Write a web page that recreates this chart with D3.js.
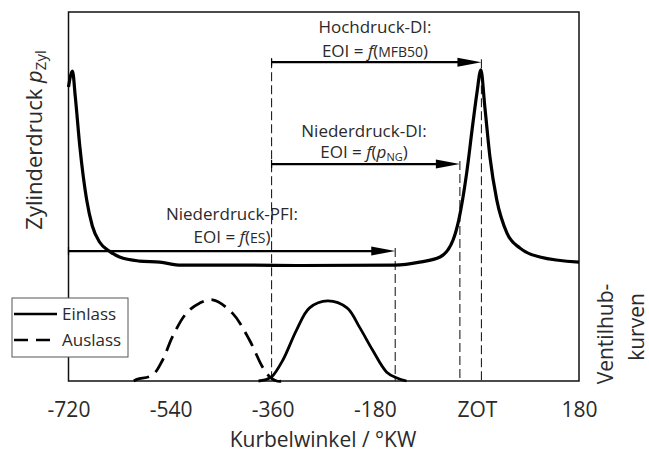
<!DOCTYPE html>
<html>
<head>
<meta charset="utf-8">
<script src="https://cdn.jsdelivr.net/npm/d3@7"></script>
<style>
body { margin: 0; background: #fff; }
text { font-family: "Open Sans", sans-serif; fill: #2a2a2a; }
</style>
</head>
<body>
<svg id="chart" width="649" height="452"></svg>
<script>
// Zylinderdruck (normiert, 0..100) ueber Kurbelwinkel
var pressAngle = [-720, -713, -708, -700, -688, -678, -665, -648, -630, -595, -559, -521, -400, -312, -145, -101, -65, -42, -32, -18, -7, 0, 7, 14, 23, 35, 53, 76, 111, 180];
var pressValue = [79.7, 84.0, 77.0, 63.5, 49.1, 42.0, 37.6, 35.2, 33.6, 32.5, 32.2, 31.4, 31.4, 31.3, 31.4, 32.2, 33.6, 38.2, 43.6, 56.4, 69.9, 78.0, 84.3, 74.3, 60.7, 49.1, 40.1, 36.0, 33.6, 32.2];

// Ventilhubkurven
var inletAngle = [-385, -374, -362, -342, -318, -295, -263, -229, -207, -184, -159, -141, -124];
var inletLift = [0, 0.3, 1.1, 5.7, 13.8, 19.8, 21.7, 19.8, 14.6, 8.4, 2.4, 0.8, 0];
var exhaustAngle = [-605, -598, -572, -554, -537, -512, -489, -466, -431, -401, -378, -365, -353, -340];
var exhaustLift = [0, 0.5, 1.6, 5.7, 11.9, 18.4, 21.1, 22.0, 18.4, 11.1, 3.8, 1.1, 0, 0];

// Einspritzende-Pfeile
var arrowFrom = [-362, -362, -720];
var arrowTo = [8, -30, -144];
var arrowLevel = [86.4, 58.8, 35.2];

var xTicks = [-720, -540, -360, -180, 0, 180];
var xTickLabels = ["-720", "-540", "-360", "-180", "ZOT", "180"];

var svg = d3.select("#chart");

var x = d3.scaleLinear().domain([-720, 180]).range([68.5, 579]);
var y = d3.scaleLinear().domain([0, 100]).range([381, 12]);

//Rahmen
svg.append("rect")
    .attr("x", x(-720)).attr("y", y(100))
    .attr("width", x(180) - x(-720)).attr("height", y(0) - y(100))
    .attr("fill", "none").attr("stroke", "#111").attr("stroke-width", 1.5);

//X Achse
var xAxis = d3.axisBottom(x)
    .tickValues(xTicks)
    .tickSize(0)
    .tickPadding(21)
    .tickFormat(function (d, i) { return xTickLabels[i]; });

var gx = svg.append("g")
    .attr("transform", "translate(0," + y(0) + ")")
    .call(xAxis);
gx.select(".domain").remove();
gx.selectAll("text")
    .attr("font-size", "21px")
    .attr("font-family", "Open Sans, sans-serif")
    .attr("fill", "#2a2a2a");

svg.append("text")
    .attr("x", 323).attr("y", 447)
    .attr("text-anchor", "middle")
    .attr("font-size", "21px")
    .text("Kurbelwinkel / °KW");

//Y Achsentitel
var yl = svg.append("text")
    .attr("transform", "translate(42,140) rotate(-90)")
    .attr("text-anchor", "middle")
    .attr("font-size", "22px");
yl.append("tspan").text("Zylinderdruck ");
yl.append("tspan").attr("font-style", "italic").text("p");
yl.append("tspan").attr("font-size", "15px").attr("dy", 4).text("Zyl");

svg.append("text")
    .attr("transform", "translate(613,334) rotate(-90)")
    .attr("text-anchor", "middle")
    .attr("font-size", "21px")
    .text("Ventilhub-");
svg.append("text")
    .attr("transform", "translate(644,327) rotate(-90)")
    .attr("text-anchor", "middle")
    .attr("font-size", "21px")
    .text("kurven");

//Gestrichelte Hilfslinien
var guides = [
    {a: arrowFrom[0], top: arrowLevel[0]},
    {a: arrowTo[0], top: arrowLevel[0]},
    {a: arrowTo[1], top: arrowLevel[1]},
    {a: arrowTo[2], top: arrowLevel[2]}
];
svg.selectAll(".guide").data(guides).enter().append("line")
    .attr("class", "guide")
    .attr("x1", function (d) { return x(d.a); })
    .attr("x2", function (d) { return x(d.a); })
    .attr("y1", function (d) { return y(d.top) - 3; })
    .attr("y2", y(0))
    .attr("stroke", "#222").attr("stroke-width", 1.1)
    .attr("stroke-dasharray", "9,4");

//Kurven
function curve(angles, values, type) {
    return d3.line()
        .x(function (d, i) { return x(angles[i]); })
        .y(function (d, i) { return y(values[i]); })
        .curve(type)(values);
}

svg.append("path")
    .attr("d", curve(pressAngle, pressValue, d3.curveMonotoneX))
    .attr("fill", "none").attr("stroke", "#000").attr("stroke-width", 3.2)
    .attr("stroke-linejoin", "round");

svg.append("path")
    .attr("d", curve(exhaustAngle, exhaustLift, d3.curveCatmullRom))
    .attr("fill", "none").attr("stroke", "#000").attr("stroke-width", 2.8)
    .attr("stroke-dasharray", "16,8");

svg.append("path")
    .attr("d", curve(inletAngle, inletLift, d3.curveCatmullRom))
    .attr("fill", "none").attr("stroke", "#000").attr("stroke-width", 2.8);

//Pfeile
for (var i = 0; i < arrowFrom.length; i++) {
    var x0 = x(arrowFrom[i]), x1 = x(arrowTo[i]), yy = y(arrowLevel[i]);
    svg.append("line")
        .attr("x1", x0).attr("x2", x1 - 20).attr("y1", yy).attr("y2", yy)
        .attr("stroke", "#000").attr("stroke-width", 2.2);
    svg.append("path")
        .attr("d", "M" + (x1 - 24) + "," + (yy - 4.5) + "L" + x1 + "," + yy + "L" + (x1 - 24) + "," + (yy + 4.5) + "Z")
        .attr("fill", "#000");
    svg.append("line")
        .attr("x1", x0).attr("x2", x0).attr("y1", yy - 4).attr("y2", yy + 4)
        .attr("stroke", "#000").attr("stroke-width", 1.2);
}

//Beschriftungen
function label(cx, by, title) {
    svg.append("text")
        .attr("x", cx).attr("y", by)
        .attr("text-anchor", "middle")
        .attr("font-size", "17px")
        .text(title);
}
label(375, 33, "Hochdruck-DI:");
label(364, 137, "Niederdruck-DI:");
label(232, 220, "Niederdruck-PFI:");

var t1 = svg.append("text").attr("x", 375).attr("y", 57).attr("text-anchor", "middle").attr("font-size", "17px");
t1.append("tspan").text("EOI = ");
t1.append("tspan").attr("font-style", "italic").text("f");
t1.append("tspan").text("(");
t1.append("tspan").attr("font-size", "14px").text("MFB50");
t1.append("tspan").text(")");

var t2 = svg.append("text").attr("x", 364).attr("y", 158).attr("text-anchor", "middle").attr("font-size", "17px");
t2.append("tspan").text("EOI = ");
t2.append("tspan").attr("font-style", "italic").text("f");
t2.append("tspan").text("(");
t2.append("tspan").attr("font-style", "italic").text("p");
t2.append("tspan").attr("font-size", "11px").attr("dy", 3).text("NG");
t2.append("tspan").attr("dy", -3).text(")");

var t3 = svg.append("text").attr("x", 232).attr("y", 243).attr("text-anchor", "middle").attr("font-size", "17px");
t3.append("tspan").text("EOI = ");
t3.append("tspan").attr("font-style", "italic").text("f");
t3.append("tspan").text("(");
t3.append("tspan").attr("font-size", "14px").text("ES");
t3.append("tspan").text(")");

//Legende
var legend = svg.append("g");
legend.append("rect")
    .attr("x", 12).attr("y", 298).attr("width", 116).attr("height", 59)
    .attr("fill", "#fff").attr("stroke", "#555").attr("stroke-width", 1);
legend.append("line")
    .attr("x1", 14).attr("x2", 57).attr("y1", 314).attr("y2", 314)
    .attr("stroke", "#000").attr("stroke-width", 2.4);
legend.append("line")
    .attr("x1", 14).attr("x2", 57).attr("y1", 340).attr("y2", 340)
    .attr("stroke", "#000").attr("stroke-width", 2.4)
    .attr("stroke-dasharray", "14,8");
legend.append("text").attr("x", 62).attr("y", 320).attr("font-size", "17px").text("Einlass");
legend.append("text").attr("x", 62).attr("y", 346).attr("font-size", "17px").text("Auslass");
</script>
</body>
</html>
